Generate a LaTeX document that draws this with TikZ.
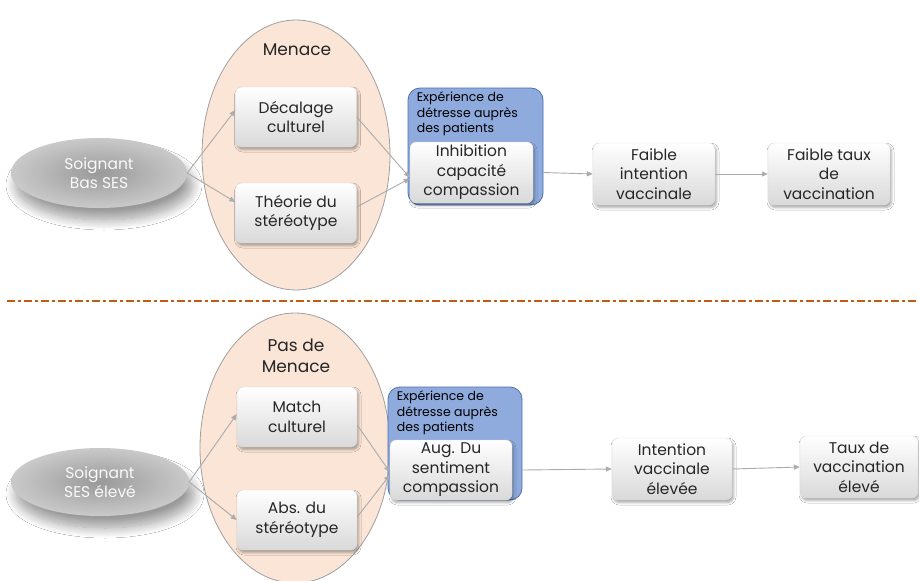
\documentclass[tikz,border=0pt]{standalone}
\usepackage{fontspec}
\setmainfont{Poppins}
\usetikzlibrary{shadows,shadows.blur,shapes.geometric,arrows.meta}
\definecolor{peach}{HTML}{FBE5D6}
\definecolor{ellborder}{HTML}{A0A0A0}
\definecolor{bluefill}{HTML}{8FAADC}
\definecolor{blueborder}{HTML}{4A6FB5}
\definecolor{arrowgray}{HTML}{ABABAB}
\definecolor{dashorange}{HTML}{C55A11}
\definecolor{txt}{HTML}{262626}
\newcommand{\boxfont}{\fontsize{15.5}{19.5}\selectfont}
\newcommand{\bluefont}{\fontsize{12.5}{15.5}\selectfont}
\newcommand{\menfont}{\fontsize{17}{21}\selectfont}
\tikzset{
  gbox/.style={rectangle, rounded corners=6pt, draw=gray!30, top color=white, bottom color=gray!30,
    align=center, inner sep=0pt, font=\boxfont, text=txt,
    blur shadow={shadow xshift=1.5pt, shadow yshift=-2.5pt, shadow blur radius=2.5pt, shadow opacity=35}},
  bluebox/.style={rectangle, rounded corners=12pt, draw=blueborder, line width=0.8pt, fill=bluefill, inner sep=0pt},
  menell/.style={ellipse, draw=ellborder, line width=0.8pt, fill=peach, inner sep=0pt},
  soiell/.style={ellipse, inner sep=0pt, inner color=gray!80, outer color=gray!42, text=white!95!gray,
    font=\boxfont, align=center,
    blur shadow={shadow xshift=5pt, shadow yshift=-12pt, shadow blur radius=10pt, shadow blur steps=16, shadow opacity=40}},
  conn/.style={draw=arrowgray, line width=0.9pt, -{Triangle[length=6pt,width=5pt]}},
  bluetext/.style={font=\bluefont, text=black, align=left, inner sep=0pt, anchor=north west},
  mentext/.style={font=\menfont, text=txt, align=center, inner sep=0pt},
}
\begin{document}
\begin{tikzpicture}[x=1pt,y=-1pt]
\useasboundingbox (0,0) rectangle (919,581);
\fill[white] (0,0) rectangle (919,581);

% ---------- top ----------
\node[menell, minimum width=188pt, minimum height=270pt] (men1) at (296,155) {};
\node[mentext] (men1t) at (297,50) {Menace};
\node[soiell, minimum width=176pt, minimum height=70pt] (soi1) at (99,173) {Soignant\\Bas SES};
\node[gbox, minimum width=121pt, minimum height=60pt] (dec) at (296,117) {Décalage\\culturel};
\node[gbox, minimum width=121pt, minimum height=60pt] (theo) at (296,213) {Théorie du\\stéréotype};
\node[bluebox, minimum width=135pt, minimum height=117pt] (blue1) at (475.5,146.5) {};
\node[bluetext] (blue1t) at ([xshift=9pt,yshift=-4pt]blue1.north west) {Expérience de\\détresse auprès\\des patients};
\node[gbox, minimum width=123pt, minimum height=61pt] (inh) at (471.5,172.5) {Inhibition\\capacité\\compassion};
\node[gbox, minimum width=122pt, minimum height=62pt] (fi) at (654,174) {Faible\\intention\\vaccinale};
\node[gbox, minimum width=122pt, minimum height=62pt] (ft) at (829,174) {Faible taux\\de\\vaccination};

\draw[conn] (soi1.east) -- ([yshift=7pt]dec.west);
\draw[conn] (soi1.east) -- ([yshift=11pt]theo.west);
\draw[conn] (dec.east) -- ([yshift=-5pt]inh.west);
\draw[conn] ([yshift=6pt]theo.east) -- ([yshift=-6pt]inh.west);
\draw[conn] (blue1.east |- inh.east) -- (fi.west);
\draw[conn] (fi.east) -- (ft.west);

% ---------- separator ----------
\coordinate (sepL) at (7,301);
\coordinate (sepR) at (919,301);
\draw[dashorange, line width=2.6pt, dash pattern=on 8pt off 3pt on 3pt off 3pt] (sepL) -- (sepR);

% ---------- bottom ----------
\node[menell, minimum width=190pt, minimum height=270pt] (men2) at (295,448) {};
\node[mentext] (men2t) at (296,356) {Pas de\\Menace};
\node[soiell, minimum width=178pt, minimum height=68pt] (soi2) at (100,482) {Soignant\\SES élevé};
\node[gbox, minimum width=120pt, minimum height=60pt] (match) at (297,417) {Match\\culturel};
\node[gbox, minimum width=120pt, minimum height=60pt] (abs) at (297,520) {Abs. du\\stéréotype};
\node[bluebox, minimum width=134pt, minimum height=113pt] (blue2) at (455,443.5) {};
\node[bluetext] (blue2t) at ([xshift=9pt,yshift=-4pt]blue2.north west) {Expérience de\\détresse auprès\\des patients};
\node[gbox, minimum width=122pt, minimum height=60pt] (aug) at (451,470) {Aug. Du\\sentiment\\compassion};
\node[gbox, minimum width=120pt, minimum height=62pt] (iv) at (672,469) {Intention\\vaccinale\\élevée};
\node[gbox, minimum width=118pt, minimum height=62pt] (tv) at (859,467) {Taux de\\vaccination\\élevé};

\draw[conn] (soi2.east) -- ([yshift=3pt]match.west);
\draw[conn] (soi2.east) -- (abs.west);
\draw[conn] ([yshift=-8pt]match.east) -- ([yshift=-2pt]aug.west);
\draw[conn] ([yshift=3pt]abs.east) -- ([yshift=-5pt]aug.west);
\draw[conn] (blue2.east |- aug.east) -- (iv.west);
\draw[conn] (iv.east) -- (tv.west);
\end{tikzpicture}
\end{document}
